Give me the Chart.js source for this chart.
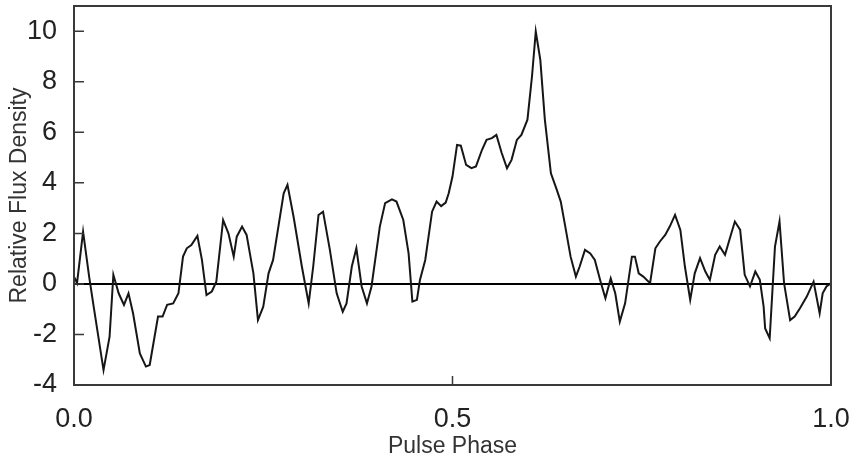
<!DOCTYPE html>
<html>
<head>
<meta charset="utf-8">
<script src="https://cdn.jsdelivr.net/npm/chart.js@4/dist/chart.umd.min.js"></script>
<style>
  html, body { margin: 0; padding: 0; background: #fff; }
  #wrap { width: 852px; height: 462px; }
</style>
</head>
<body>
<div id="wrap"><canvas id="myChart" width="852" height="462"></canvas></div>
<script>
'use strict';

// pulse profile
const phase = [
  0.000, 0.004, 0.012, 0.020, 0.026, 0.039, 0.047, 0.052, 0.059, 0.066,
  0.072, 0.078, 0.087, 0.095, 0.100, 0.111, 0.117, 0.123, 0.131, 0.138,
  0.144, 0.149, 0.155, 0.163, 0.169, 0.175, 0.182, 0.188, 0.197, 0.204,
  0.211, 0.215, 0.222, 0.228, 0.237, 0.243, 0.250, 0.257, 0.263, 0.277,
  0.282, 0.290, 0.301, 0.310, 0.316, 0.323, 0.329, 0.338, 0.347, 0.355,
  0.360, 0.367, 0.373, 0.380, 0.387, 0.393, 0.404, 0.411, 0.420, 0.426,
  0.435, 0.442, 0.447, 0.453, 0.457, 0.464, 0.473, 0.479, 0.485, 0.491,
  0.495, 0.500, 0.506, 0.511, 0.518, 0.525, 0.531, 0.539, 0.545, 0.552,
  0.558, 0.565, 0.572, 0.578, 0.585, 0.591, 0.599, 0.605, 0.610, 0.616,
  0.622, 0.630, 0.637, 0.643, 0.649, 0.656, 0.663, 0.668, 0.675, 0.682,
  0.688, 0.695, 0.702, 0.709, 0.715, 0.721, 0.728, 0.737, 0.741, 0.746,
  0.752, 0.761, 0.768, 0.774, 0.781, 0.787, 0.794, 0.801, 0.807, 0.814,
  0.820, 0.827, 0.834, 0.840, 0.847, 0.853, 0.860, 0.867, 0.873, 0.880,
  0.886, 0.893, 0.900, 0.906, 0.911, 0.913, 0.919, 0.926, 0.932, 0.938,
  0.946, 0.952, 0.959, 0.968, 0.977, 0.985, 0.989, 0.994, 1.000
];
const flux = [
  0.29, 0.03, 2.07, 0.29, -0.90, -3.41, -2.09, 0.36, -0.37, -0.83,
  -0.37, -1.16, -2.75, -3.27, -3.21, -1.29, -1.29, -0.83, -0.77, -0.37,
  1.08, 1.41, 1.54, 1.90, 0.95, -0.44, -0.30, 0.09, 2.53, 2.00,
  1.08, 1.87, 2.27, 1.94, 0.42, -1.43, -0.90, 0.42, 0.95, 3.59,
  3.92, 2.67, 0.69, -0.77, 0.69, 2.73, 2.86, 1.35, -0.37, -1.10,
  -0.77, 0.69, 1.41, -0.10, -0.77, -0.10, 2.27, 3.20, 3.35, 3.26,
  2.53, 1.21, -0.70, -0.63, 0.16, 0.95, 2.86, 3.26, 3.08, 3.22,
  3.59, 4.25, 5.50, 5.47, 4.71, 4.58, 4.65, 5.31, 5.70, 5.77,
  5.90, 5.18, 4.58, 4.91, 5.70, 5.90, 6.50, 8.21, 9.99, 8.87,
  6.50, 4.38, 3.79, 3.26, 2.27, 1.08, 0.29, 0.69, 1.35, 1.21,
  0.95, 0.16, -0.57, 0.22, -0.37, -1.49, -0.77, 1.08, 1.08, 0.42,
  0.29, 0.03, 1.41, 1.68, 1.94, 2.27, 2.73, 2.14, 0.69, -0.63,
  0.42, 1.02, 0.49, 0.16, 1.15, 1.48, 1.15, 1.87, 2.47, 2.14,
  0.36, -0.10, 0.49, 0.16, -0.90, -1.76, -2.15, 1.48, 2.47, 0.03,
  -1.43, -1.29, -0.96, -0.50, 0.09, -1.16, -0.37, -0.10, 0.03
];
const xTicks = [0, 0.5, 1];
const yTicks = [-4, -2, 0, 2, 4, 6, 8, 10];

const points = phase.map((p, i) => ({ x: p, y: flux[i] }));

// frame round the plot plus the short inward ticks
const framePlugin = {
  id: 'frame',
  afterDatasetsDraw(chart) {
    const { ctx, chartArea: a, scales } = chart;
    ctx.save();
    ctx.strokeStyle = '#3a3a3a';
    ctx.lineWidth = 2;
    ctx.strokeRect(a.left, a.top, a.right - a.left, a.bottom - a.top);
    ctx.lineWidth = 1.5;
    ctx.beginPath();
    yTicks.forEach(v => {
      const y = scales.y.getPixelForValue(v);
      ctx.moveTo(a.left, y);
      ctx.lineTo(a.left + 10, y);
    });
    xTicks.forEach(v => {
      const x = scales.x.getPixelForValue(v);
      ctx.moveTo(x, a.bottom);
      ctx.lineTo(x, a.bottom - 9);
    });
    ctx.stroke();
    ctx.restore();
  }
};

const ctx = document.getElementById('myChart').getContext('2d');
const myChart = new Chart(ctx, {
  type: 'line',
  data: {
    datasets: [{
      data: points,
      borderColor: '#161616',
      borderWidth: 2,
      pointRadius: 0,
      tension: 0,
      fill: false
    }]
  },
  options: {
    responsive: false,
    animation: false,
    devicePixelRatio: 1,
    layout: { padding: { left: 0, right: 21, top: 6, bottom: 0 } },
    plugins: {
      legend: { display: false },
      tooltip: { enabled: false }
    },
    scales: {
      x: {
        type: 'linear',
        min: 0,
        max: 1,
        afterBuildTicks: s => { s.ticks = xTicks.map(v => ({ value: v })); },
        afterFit: s => { s.height = 77; s.paddingLeft = 0; s.paddingRight = 0; },
        grid: { display: false },
        border: { display: false },
        ticks: {
          callback: v => v.toFixed(1),
          font: { family: 'Liberation Sans', size: 27 },
          color: '#222',
          padding: 10,
          maxRotation: 0
        },
        title: {
          display: true,
          text: 'Pulse Phase',
          font: { family: 'Liberation Sans', size: 23 },
          color: '#333',
          padding: { top: 0, bottom: 2 }
        }
      },
      y: {
        min: -4,
        max: 11,
        afterBuildTicks: s => { s.ticks = yTicks.map(v => ({ value: v })); },
        afterFit: s => { s.width = 74; s.paddingTop = 0; s.paddingBottom = 0; },
        grid: {
          drawTicks: false,
          color: c => (c.tick && c.tick.value === 0 ? '#000' : 'rgba(0,0,0,0)'),
          lineWidth: 2
        },
        border: { display: false },
        ticks: {
          font: { family: 'Liberation Sans', size: 27 },
          color: '#222',
          padding: 17
        },
        title: {
          display: true,
          text: 'Relative Flux Density',
          font: { family: 'Liberation Sans', size: 23 },
          color: '#333',
          padding: { top: 6, bottom: 0 }
        }
      }
    }
  },
  plugins: [framePlugin]
});
</script>
</body>
</html>
